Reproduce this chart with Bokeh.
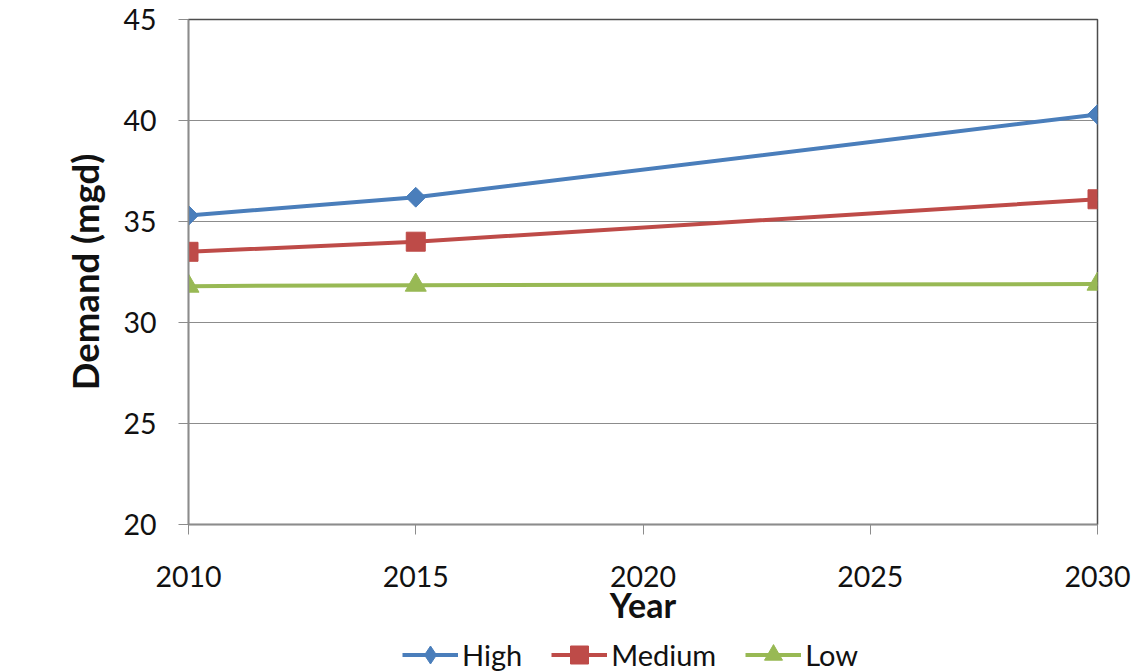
import math
from bokeh.plotting import figure
from bokeh.layouts import column
from bokeh.models import Range1d, FixedTicker, Legend, LegendItem
from bokeh.embed import file_html
from bokeh.resources import INLINE

years = [2010, 2015, 2030]
high = [35.3, 36.2, 40.3]
medium = [33.5, 34.0, 36.1]
low = [31.8, 31.85, 31.9]
series_names = ["High", "Medium", "Low"]
colors = ["#4A7EBB", "#BE4B48", "#98B954"]
markers = ["square", "square", "triangle"]
marker_angles = [math.pi / 4, 0, 0]
marker_sizes = [14, 19, 21]
legend_markers = ["diamond", "square", "triangle"]
x_ticks = [2010, 2015, 2020, 2025, 2030]
y_ticks = [20, 25, 30, 35, 40, 45]

FONT = "Lato"
TEXT = "#111111"

p = figure(width=1133, height=627, output_backend="svg", toolbar_location=None,
           x_range=Range1d(2010, 2030), y_range=Range1d(20, 45),
           min_border_left=188, min_border_right=36, min_border_top=19,
           min_border_bottom=103)
p.background_fill_color = "white"
p.border_fill_color = "white"
p.outline_line_color = "#4d4d4d"
p.outline_line_width = 1.5

p.xgrid.grid_line_color = None
p.ygrid.grid_line_color = "#8c8c8c"
p.ygrid.grid_line_width = 1
p.ygrid.ticker = FixedTicker(ticks=y_ticks)

for ax in (p.xaxis[0], p.yaxis[0]):
    ax.axis_line_color = "#8c8c8c"
    ax.axis_line_width = 1.5
    ax.major_tick_line_color = "#8c8c8c"
    ax.major_tick_line_width = 1
    ax.major_tick_out = 10
    ax.major_tick_in = 0
    ax.minor_tick_line_color = None
    ax.major_label_text_font = FONT
    ax.major_label_text_font_size = "28.5px"
    ax.major_label_text_color = TEXT
    ax.axis_label_text_font = FONT
    ax.axis_label_text_font_style = "bold"
    ax.axis_label_text_color = TEXT

p.xaxis.axis_label_text_font_size = "34px"
p.yaxis.axis_label_text_font_size = "36.5px"
p.xaxis.ticker = FixedTicker(ticks=x_ticks)
p.yaxis.ticker = FixedTicker(ticks=y_ticks)
p.xaxis.axis_label = "Year"
p.yaxis.axis_label = "Demand (mgd)"
p.xaxis.major_label_standoff = 31
p.xaxis.axis_label_standoff = -6
p.yaxis.major_label_standoff = 22
p.yaxis.axis_label_standoff = 13

# legend strip below the chart
lg = figure(width=1133, height=45, output_backend="svg", toolbar_location=None,
            x_range=Range1d(0, 1), y_range=Range1d(0, 1),
            min_border=0)
lg.axis.visible = False
lg.grid.visible = False
lg.outline_line_color = None
lg.background_fill_color = "white"
lg.border_fill_color = "white"

items = []
for name, vals, col, mk, ang, ms, lmk in zip(series_names, [high, medium, low], colors,
                                              markers, marker_angles, marker_sizes,
                                              legend_markers):
    p.line(years, vals, line_color=col, line_width=4)
    p.scatter(years, vals, marker=mk, angle=ang, size=ms, fill_color=col, line_color=col)
    # same series in the legend strip (outside its visible range)
    l2 = lg.line(years, vals, line_color=col, line_width=4)
    s2 = lg.scatter(years, vals, marker=lmk, size=ms, fill_color=col, line_color=col)
    items.append(LegendItem(label=name, renderers=[l2, s2]))

legend = Legend(items=items, orientation="horizontal", location=(214, -5))
legend.border_line_color = None
legend.background_fill_alpha = 0
legend.label_text_font = FONT
legend.label_text_font_size = "29px"
legend.label_text_color = TEXT
legend.glyph_width = 56
legend.glyph_height = 45
legend.label_standoff = 4
legend.spacing = 29
legend.padding = 0
legend.margin = 0
lg.add_layout(legend, "center")

layout = column(p, lg, spacing=0)
open("out.html", "w").write(file_html(layout, INLINE))
